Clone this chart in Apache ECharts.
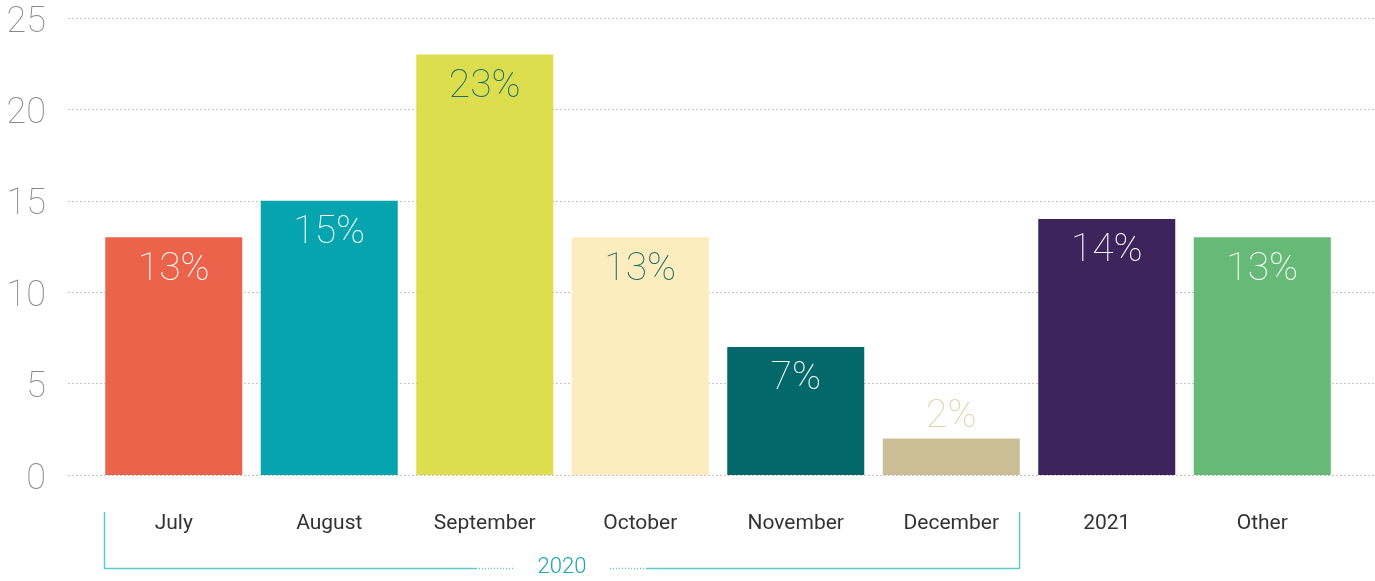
<!DOCTYPE html>
<html><head><meta charset="utf-8">
<script src="https://cdn.jsdelivr.net/npm/echarts@6/dist/echarts.min.js"></script>
<style>html,body{margin:0;padding:0;background:#fff}#c{width:1375px;height:581px}</style>
</head><body><div id="c"></div>
<script>
const categories = ['July','August','September','October','November','December','2021','Other'];
const values = [13, 15, 23, 13, 7, 2, 14, 13];
const barColors = ['#EB634B','#06A4AE','#DCDE4E','#FDEDBE','#02686A','#CBBD96','#3D245C','#66B977'];
const labelColors = ['#ffffff','#ffffff','#1E6E6A','#1E6E6A','#ffffff','#E0D2AA','#ffffff','#ffffff'];
const yTicks = [0, 5, 10, 15, 20, 25];
const groupLabel = '2020';

const chart = echarts.init(document.getElementById('c'), null, {renderer:'canvas'});
const thin = {fontFamily:'Roboto', fontWeight:100};
const bracketColor = '#5CC9CE';

chart.setOption({
  animation:false,
  grid:[
    {left:96, right:35, top:18, bottom:106},
    {left:68, right:0, top:18, bottom:106}
  ],
  xAxis:[
    {type:'category', gridIndex:0, data:categories,
     axisLine:{show:false}, axisTick:{show:false},
     axisLabel:{margin:38, fontSize:21, color:'#333', fontFamily:'Roboto', fontWeight:400}},
    {type:'value', gridIndex:1, show:false, min:0, max:1}
  ],
  yAxis:[
    {type:'value', gridIndex:0, min:0, max:25, interval:5, show:false},
    {type:'value', gridIndex:1, min:yTicks[0], max:yTicks[yTicks.length-1], interval:5,
     axisLine:{show:false}, axisTick:{show:false},
     axisLabel:Object.assign({fontSize:36, color:'#888', margin:22, verticalAlign:'top', lineHeight:9}, thin),
     splitLine:{lineStyle:{type:[2,2], color:'#c4c4c4', width:1}}}
  ],
  series:[{
    type:'bar', xAxisIndex:0, yAxisIndex:0,
    barWidth:137,
    data: values.map((v,i)=>({
      value:v,
      itemStyle:{color:barColors[i]},
      label:{
        show:true,
        position: v < 5 ? 'top' : 'insideTop',
        distance: v < 5 ? 2 : 13,
        formatter:'{c}%',
        color:labelColors[i],
        fontSize:39, fontFamily:'Roboto', fontWeight:100
      }
    }))
  }],
  graphic:[
    {type:'polyline', shape:{points:[[104.5,512],[104.5,568.5],[476,568.5]]}, style:{stroke:bracketColor, lineWidth:1.5, fill:null}},
    {type:'line', shape:{x1:476,y1:568.5,x2:515,y2:568.5}, style:{stroke:bracketColor, lineWidth:1.5, lineDash:[1,2]}},
    {type:'text', x:562, y:567, style:{text:groupLabel, fill:'#1AA5B0', fontSize:22, fontFamily:'Roboto', fontWeight:300, align:'center', verticalAlign:'middle'}},
    {type:'line', shape:{x1:610,y1:568.5,x2:646,y2:568.5}, style:{stroke:bracketColor, lineWidth:1.5, lineDash:[1,2]}},
    {type:'polyline', shape:{points:[[646,568.5],[1019.5,568.5],[1019.5,512]]}, style:{stroke:bracketColor, lineWidth:1.5, fill:null}}
  ]
});
</script></body></html>
